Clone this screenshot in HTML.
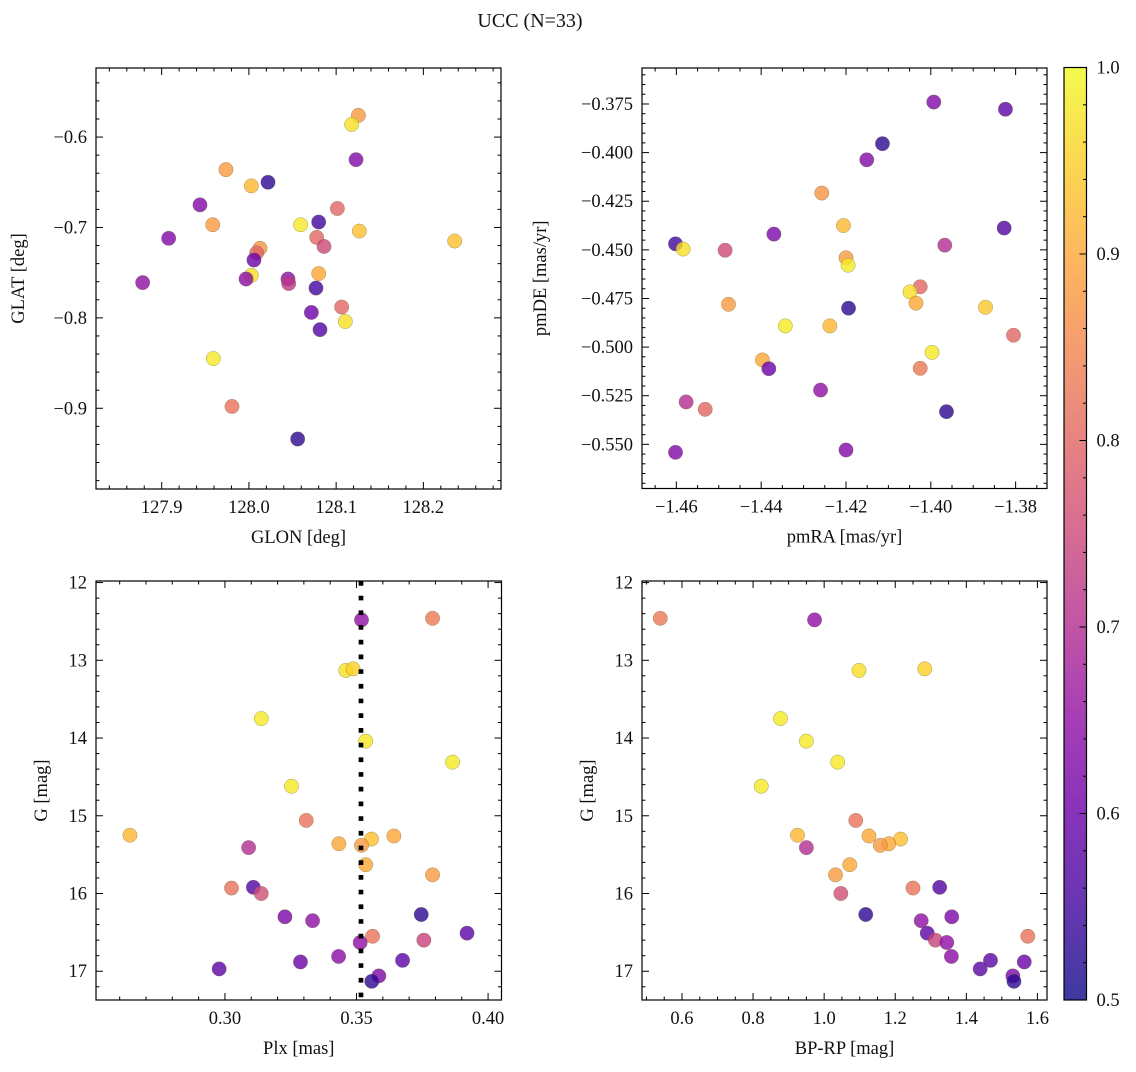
<!DOCTYPE html>
<html><head><meta charset="utf-8"><style>
html,body{margin:0;padding:0;background:#fff;}
svg text{font-family:"DejaVu Serif","Liberation Serif",serif;fill:#111;}
</style></head><body>
<svg id="fig" width="1136" height="1067" viewBox="0 0 1136 1067" xmlns="http://www.w3.org/2000/svg">
<defs><linearGradient id="plasmaGrad" x1="0" y1="1" x2="0" y2="0"></linearGradient></defs>
<text x="530" y="27" text-anchor="middle" font-size="20" style="font-family:'Liberation Serif',serif">UCC (N=33)</text>
</svg>
<script>
// Shared photometry (panels 3 & 4)
const plx = [0.3519,0.3789,0.3459,0.3487,0.3138,0.3535,0.3865,0.3253,0.3309,0.2639,0.3642,0.3557,0.3433,0.3519,0.3090,0.3535,0.3789,0.3025,0.3108,0.3138,0.3746,0.3228,0.3333,0.3920,0.3561,0.3756,0.3514,0.3432,0.3287,0.3675,0.2978,0.3585,0.3558];
const gmag = [12.48,12.46,13.13,13.11,13.75,14.04,14.31,14.62,15.06,15.25,15.26,15.30,15.36,15.38,15.41,15.63,15.76,15.93,15.92,16.00,16.27,16.30,16.35,16.51,16.55,16.60,16.63,16.81,16.88,16.86,16.97,17.06,17.13];
const bprp = [0.973,0.539,1.098,1.283,0.877,0.950,1.038,0.823,1.089,0.925,1.126,1.215,1.182,1.158,0.950,1.072,1.032,1.250,1.325,1.047,1.117,1.359,1.273,1.290,1.573,1.313,1.345,1.358,1.563,1.468,1.439,1.531,1.534];
const probPhot = [0.65,0.83,0.97,0.95,0.98,0.98,0.98,0.98,0.82,0.92,0.90,0.93,0.90,0.88,0.70,0.90,0.88,0.82,0.57,0.76,0.53,0.62,0.65,0.58,0.82,0.74,0.65,0.64,0.60,0.58,0.58,0.62,0.53];
// Panel 1 positions
const glon = [128.1255,128.1178,128.1228,127.9737,128.0028,128.0219,127.9439,128.1014,128.0800,128.0593,127.9585,128.1266,128.2359,127.9080,128.0777,128.0861,128.0127,128.0089,128.0058,128.0800,128.0028,127.9967,128.0448,128.0456,127.8782,128.0769,128.1063,128.0716,128.1105,128.0815,127.9592,127.9806,128.0559];
const glat = [-0.576,-0.586,-0.625,-0.636,-0.654,-0.650,-0.675,-0.679,-0.694,-0.697,-0.697,-0.704,-0.715,-0.712,-0.711,-0.721,-0.723,-0.728,-0.736,-0.751,-0.753,-0.757,-0.757,-0.762,-0.761,-0.767,-0.788,-0.794,-0.804,-0.813,-0.845,-0.898,-0.934];
const probPos = [0.88,0.97,0.63,0.88,0.92,0.53,0.63,0.80,0.55,0.98,0.88,0.93,0.93,0.63,0.80,0.75,0.87,0.80,0.60,0.90,0.97,0.64,0.64,0.72,0.65,0.55,0.80,0.60,0.97,0.57,0.98,0.82,0.53];
// Panel 2 proper motions
const pmra = [-1.3993,-1.3824,-1.4114,-1.4151,-1.4257,-1.4206,-1.3827,-1.4370,-1.4602,-1.4584,-1.4485,-1.3967,-1.4200,-1.4195,-1.4025,-1.4049,-1.4035,-1.4477,-1.4194,-1.3871,-1.4343,-1.4238,-1.3805,-1.3997,-1.4397,-1.4382,-1.4025,-1.4260,-1.4577,-1.4532,-1.3963,-1.4200,-1.4602];
const pmde = [-0.3740,-0.3777,-0.3954,-0.4037,-0.4208,-0.4375,-0.4388,-0.4419,-0.4469,-0.4496,-0.4502,-0.4476,-0.4541,-0.4579,-0.4690,-0.4716,-0.4774,-0.4780,-0.4800,-0.4795,-0.4891,-0.4891,-0.4939,-0.5027,-0.5066,-0.5111,-0.5109,-0.5221,-0.5282,-0.5320,-0.5332,-0.5529,-0.5541];
const probPm = [0.63,0.58,0.53,0.63,0.87,0.92,0.57,0.62,0.55,0.97,0.75,0.70,0.88,0.98,0.80,0.97,0.90,0.88,0.53,0.94,0.98,0.92,0.80,0.98,0.90,0.60,0.83,0.65,0.70,0.80,0.53,0.63,0.63];
const plxLine = [0.3517];
const cbTicks = [0.5,0.6,0.7,0.8,0.9,1.0];

const NS='http://www.w3.org/2000/svg';
const svg=document.getElementById('fig');
const FONT="'Liberation Serif',serif";
function mk(tag,attrs,parent){const e=document.createElementNS(NS,tag);for(const k in attrs)e.setAttribute(k,attrs[k]);(parent||svg).appendChild(e);return e;}
const stops=['#0d0887','#41049d','#6a00a8','#8f0da4','#b12a90','#cc4778','#e16462','#f2844b','#fca636','#fcce25','#f0f921'];
function hx(h){return [parseInt(h.substr(1,2),16),parseInt(h.substr(3,2),16),parseInt(h.substr(5,2),16)];}
function plasma(t){t=Math.max(0,Math.min(1,t));const f=t*10;const i=Math.min(9,Math.floor(f));const u=f-i;const a=hx(stops[i]),b=hx(stops[i+1]);return 'rgb('+a.map((v,k)=>Math.round(v+(b[k]-v)*u)).join(',')+')';}
function cnorm(c){return (c-0.5)/0.5;}
function fmt(v,d){const s=Math.abs(v).toFixed(d);return (v<0?'\u2212':'')+s;}

function panel(cfg){
  const g=mk('g',{});
  
  
  const {L,R,T,B}=cfg;
  const sx=v=>L+(v-cfg.x0)/(cfg.x1-cfg.x0)*(R-L);
  const sy=v=>cfg.yinv? T+(v-cfg.y0)/(cfg.y1-cfg.y0)*(B-T) : B-(v-cfg.y0)/(cfg.y1-cfg.y0)*(B-T);
  const pg=mk('g',{},g);
  for(let i=0;i<cfg.xs.length;i++){
    const c=mk('circle',{cx:sx(cfg.xs[i]),cy:sy(cfg.ys[i]),r:7.2,fill:plasma(cnorm(cfg.cs[i])),'fill-opacity':0.8,stroke:'#6b6b40','stroke-width':0.5,'stroke-opacity':0.6},pg);
    
    
  }
  if(cfg.vline){
    const l=mk('line',{x1:sx(cfg.vline[0]),x2:sx(cfg.vline[0]),y1:T,y2:B,stroke:'#000','stroke-width':4.7,'stroke-dasharray':'4.7 10'},g);
    
    
  }
  const fr=mk('rect',{x:L,y:T,width:R-L,height:B-T,fill:'none',stroke:'#000','stroke-width':1.2},g);
  
  
  const eps=1e-9;
  const mnX=Math.ceil(cfg.x0/cfg.xmin-eps), mxX=Math.floor(cfg.x1/cfg.xmin+eps);
  for(let k=mnX;k<=mxX;k++){const v=k*cfg.xmin;const x=sx(v);const isMaj=Math.abs(v/cfg.xmaj-Math.round(v/cfg.xmaj))<1e-6;const len=isMaj?7:3.5;
    mk('line',{x1:x,x2:x,y1:B,y2:B-len,stroke:'#000','stroke-width':1},g);
    mk('line',{x1:x,x2:x,y1:T,y2:T+len,stroke:'#000','stroke-width':1},g);
    if(isMaj){const t=mk('text',{x:x,y:B+24,'text-anchor':'middle','font-size':18.5,style:'font-family:'+FONT},g);t.textContent=fmt(v,cfg.xd);
      }
  }
  const mnY=Math.ceil(Math.min(cfg.y0,cfg.y1)/cfg.ymin-eps), mxY=Math.floor(Math.max(cfg.y0,cfg.y1)/cfg.ymin+eps);
  for(let k=mnY;k<=mxY;k++){const v=k*cfg.ymin;const y=sy(v);const isMaj=Math.abs(v/cfg.ymaj-Math.round(v/cfg.ymaj))<1e-6;const len=isMaj?7:3.5;
    mk('line',{x1:L,x2:L+len,y1:y,y2:y,stroke:'#000','stroke-width':1},g);
    mk('line',{x1:R,x2:R-len,y1:y,y2:y,stroke:'#000','stroke-width':1},g);
    if(isMaj){const t=mk('text',{x:L-9,y:y+6,'text-anchor':'end','font-size':18.5,style:'font-family:'+FONT},g);t.textContent=fmt(v,cfg.yd);
      }
  }
  const xl=mk('text',{x:(L+R)/2,y:B+54,'text-anchor':'middle','font-size':18.5,style:'font-family:'+FONT},g);xl.textContent=cfg.xlabel;
  
  const yl=mk('text',{x:cfg.ylx,y:(T+B)/2,'text-anchor':'middle','font-size':18.5,style:'font-family:'+FONT,transform:'rotate(-90 '+cfg.ylx+' '+(T+B)/2+')'},g);yl.textContent=cfg.ylabel;
  
}

panel({name:'galactic-position-panel',L:96,R:501,T:68,B:489,x0:127.8247,x1:128.289,y0:-0.9893,y1:-0.5236,yinv:false,xs:glon,ys:glat,cs:probPos,xmaj:0.1,xmin:0.02,ymaj:0.1,ymin:0.02,xd:1,yd:1,xlabel:'GLON [deg]',ylabel:'GLAT [deg]',ylx:24});
panel({name:'proper-motion-panel',L:642,R:1047,T:68,B:488.5,x0:-1.4681,x1:-1.3726,y0:-0.5727,y1:-0.3565,yinv:false,xs:pmra,ys:pmde,cs:probPm,xmaj:0.02,xmin:0.005,ymaj:0.025,ymin:0.005,xd:2,yd:3,xlabel:'pmRA [mas/yr]',ylabel:'pmDE [mas/yr]',ylx:546});
panel({name:'parallax-magnitude-panel',L:96,R:501.5,T:581,B:1000,x0:0.251,x1:0.4051,y0:11.98,y1:17.37,yinv:true,xs:plx,ys:gmag,cs:probPhot,xmaj:0.05,xmin:0.01,ymaj:1,ymin:0.2,xd:2,yd:0,xlabel:'Plx [mas]',ylabel:'G [mag]',ylx:47,vline:plxLine});
panel({name:'color-magnitude-panel',L:642,R:1047,T:581,B:1000,x0:0.4875,x1:1.627,y0:11.98,y1:17.37,yinv:true,xs:bprp,ys:gmag,cs:probPhot,xmaj:0.2,xmin:0.05,ymaj:1,ymin:0.2,xd:1,yd:0,xlabel:'BP-RP [mag]',ylabel:'G [mag]',ylx:593});

const grad=document.getElementById('plasmaGrad');
for(let i=0;i<=10;i++){mk('stop',{offset:(i/10),'stop-color':stops[i],'stop-opacity':0.8},grad);}
const cbT=67.5,cbB=1000,cbL=1064,cbR=1086.5;
const cbg=mk('g',{});


mk('rect',{x:cbL,y:cbT,width:cbR-cbL,height:cbB-cbT,fill:'url(#plasmaGrad)',stroke:'#000','stroke-width':1.2},cbg);
const cy=v=>cbB-(v-0.5)/0.5*(cbB-cbT);
for(let k=25;k<=50;k++){const v=k/50;const isMaj=(k%5===0);const y=cy(v);
  mk('line',{x1:cbR,x2:cbR-(isMaj?7:3.5),y1:y,y2:y,stroke:'#000','stroke-width':1},cbg);}
cbTicks.forEach(v=>{const t=mk('text',{x:cbR+10,y:cy(v)+6,'font-size':18.5,style:'font-family:'+FONT},cbg);t.textContent=v.toFixed(1);
  });
</script>
</body></html>
